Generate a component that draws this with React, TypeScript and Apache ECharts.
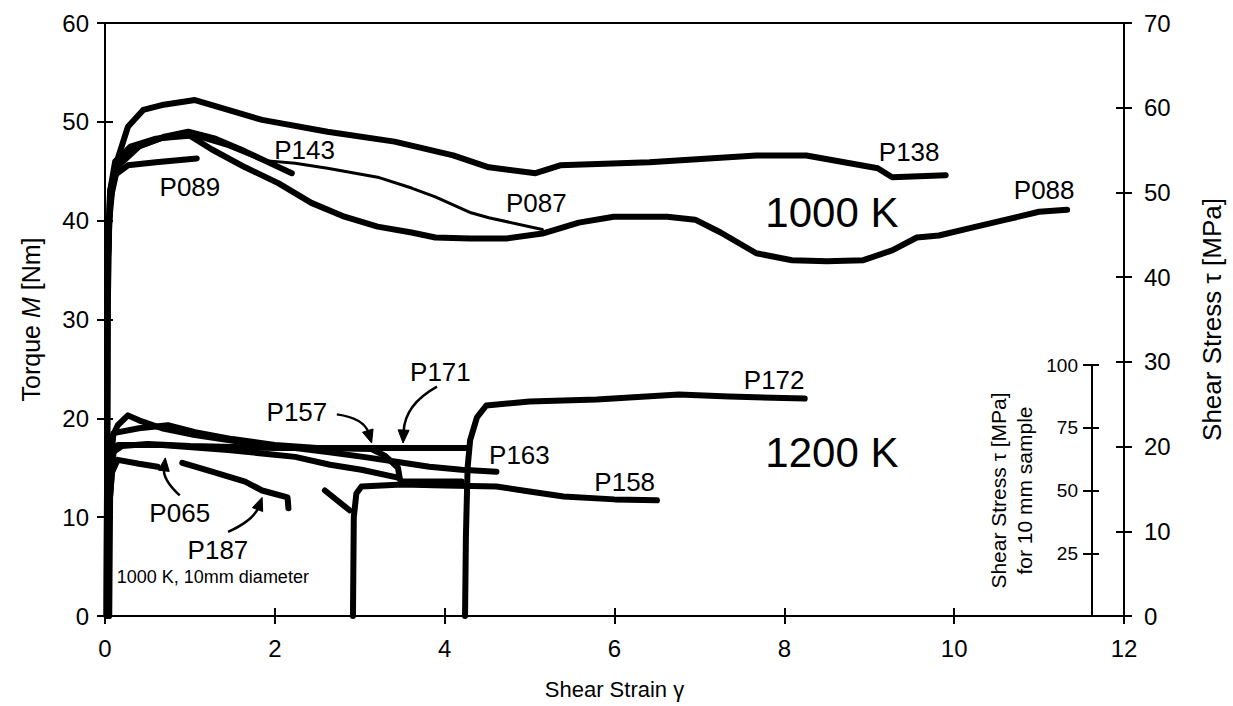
import React, { useEffect, useRef } from "react";
import * as echarts from "echarts";

const FONT = '"Liberation Sans", Arial, Helvetica, sans-serif';

// ---- axes ----
const strainMin = 0;
const strainMax = 12;
const strainStep = 2;
const torqueMax = 60;
const torqueStep = 10;
const stressMax = 70;
const stressStep = 10;
const stress10Max = 100;
const stress10Step = 25;

// ---- 1000 K curves (shear strain, torque Nm) ----
const P138 = [
  [0.02, 0], [0.03, 35], [0.06, 43], [0.14, 46], [0.27, 49.5], [0.45, 51.2], [0.67, 51.7],
  [1.06, 52.2], [1.45, 51.2], [1.85, 50.2], [2.62, 49.0], [3.41, 48.0], [4.1, 46.6],
  [4.52, 45.4], [5.07, 44.8], [5.36, 45.6], [6.41, 45.9], [7.67, 46.6], [8.26, 46.6],
  [9.1, 45.3], [9.27, 44.4], [9.9, 44.6],
];
const P088 = [
  [0.02, 0], [0.03, 35], [0.06, 43], [0.12, 46], [0.3, 47.5], [0.6, 48.3], [0.98, 48.7],
  [1.26, 47.2], [1.65, 45.4], [2.04, 43.8], [2.43, 41.8], [2.82, 40.4], [3.21, 39.4],
  [3.61, 38.8], [3.89, 38.3], [4.3, 38.2], [4.73, 38.2], [5.15, 38.7], [5.58, 39.8],
  [5.99, 40.4], [6.62, 40.4], [6.95, 40.1], [7.25, 38.8], [7.67, 36.7], [8.09, 36.0],
  [8.5, 35.9], [8.93, 36.0], [9.27, 37.0], [9.56, 38.3], [9.82, 38.5], [10.21, 39.3],
  [10.61, 40.1], [11.0, 40.9], [11.33, 41.1],
];
const P087 = [
  [0.02, 0], [0.03, 35], [0.06, 43], [0.15, 46.0], [0.27, 47.0], [0.67, 48.2], [1.06, 48.5],
  [1.45, 47.5], [1.85, 46.1], [2.24, 45.8], [2.62, 45.3], [3.21, 44.4], [3.61, 43.3],
  [3.89, 42.4], [4.31, 40.8], [4.52, 40.3], [5.15, 39.1],
];
const P143 = [
  [0.02, 0], [0.03, 35], [0.06, 42], [0.15, 45.5], [0.4, 47.5], [0.7, 48.5], [0.98, 49.0],
  [1.3, 48.3], [1.6, 47.2], [1.9, 46.0], [2.2, 44.8],
];
const P089 = [
  [0.02, 0], [0.03, 30], [0.05, 40], [0.1, 44.5], [0.27, 45.6], [0.6, 45.9], [1.08, 46.3],
];

// ---- 1200 K curves ----
const P163 = [
  [0.03, 0], [0.04, 12], [0.08, 18], [0.15, 19.3], [0.27, 20.3], [0.4, 19.8], [0.67, 19.0],
  [1.06, 18.3], [1.45, 17.8], [1.85, 17.3], [2.24, 17.0], [2.62, 16.6], [3.04, 16.1],
  [3.43, 15.6], [3.82, 15.1], [4.2, 14.8], [4.61, 14.6],
];
const P157 = [
  [0.04, 0], [0.05, 14], [0.1, 18.5], [0.4, 19.0], [0.74, 19.3], [1.06, 18.6], [1.5, 17.9],
  [2.0, 17.3], [2.5, 17.0], [3.14, 16.9], [3.3, 16.2], [3.45, 15.0], [3.47, 14.0],
];
const P171 = [
  [0.03, 0], [0.04, 14], [0.08, 16.5], [0.2, 17.2], [0.5, 17.4], [1.0, 17.2], [2.0, 17.0],
  [3.0, 17.0], [4.26, 17.0],
];
const P065main = [
  [0.05, 0], [0.06, 12], [0.1, 16.5], [0.15, 17.3], [0.67, 17.3], [1.45, 16.8], [2.24, 16.1],
  [2.65, 15.3], [3.02, 14.8], [3.45, 14.0], [3.5, 13.6], [4.2, 13.6],
];
const P065 = [
  [0.04, 0], [0.05, 11], [0.08, 14.5], [0.15, 15.8], [0.4, 15.4], [0.62, 15.1],
];
const P187 = [
  [0.91, 15.5], [1.26, 14.6], [1.65, 13.6], [1.85, 12.7], [2.15, 12.0], [2.16, 10.9],
];
const P158pre = [[2.59, 12.7], [2.88, 10.7]];
const P158 = [
  [2.92, 0], [2.93, 10], [2.96, 12.4], [3.02, 13.1], [3.5, 13.3], [4.0, 13.2], [4.61, 13.1],
  [5.0, 12.6], [5.4, 12.1], [6.0, 11.8], [6.5, 11.7],
];
const P172 = [
  [4.24, 0], [4.25, 8], [4.27, 15], [4.3, 17.8], [4.38, 20.1], [4.49, 21.3], [5.0, 21.7],
  [5.79, 21.9], [6.76, 22.4], [7.35, 22.2], [8.24, 22.0],
];

// ---- annotations (data coordinates) ----
const labelTexts = [
  { text: "P138", at: [9.47, 46.9], size: 26 },
  { text: "P088", at: [11.06, 43.1], size: 26 },
  { text: "P087", at: [5.08, 41.8], size: 26 },
  { text: "P143", at: [2.35, 47.2], size: 26 },
  { text: "P089", at: [1.0, 43.4], size: 26 },
  { text: "1000 K", at: [8.56, 40.8], size: 42 },
  { text: "P171", at: [3.95, 24.7], size: 26 },
  { text: "P172", at: [7.88, 23.9], size: 26 },
  { text: "P157", at: [2.26, 20.6], size: 26 },
  { text: "P163", at: [4.88, 16.3], size: 26 },
  { text: "P158", at: [6.12, 13.6], size: 26 },
  { text: "1200 K", at: [8.56, 16.5], size: 42 },
  { text: "P065", at: [0.88, 10.4], size: 26 },
  { text: "P187", at: [1.33, 6.7], size: 26 },
  { text: "1000 K, 10mm diameter", at: [1.27, 3.9], size: 18 },
];
const arrows = [
  { from: [2.73, 20.4], ctrl: [3.05, 20.0], to: [3.14, 17.5] },
  { from: [3.91, 23.2], ctrl: [3.53, 21.4], to: [3.51, 17.5] },
  { from: [0.88, 12.2], ctrl: [0.68, 13.8], to: [0.71, 16.0] },
  { from: [1.45, 8.5], ctrl: [1.75, 9.7], to: [1.85, 12.0] },
];

const thick = [P138, P088, P143, P089, P163, P157, P171, P065main, P065, P187, P158pre, P158, P172];
const thickNames = ["P138", "P088", "P143", "P089", "P163", "P157", "P171", "P065b", "P065", "P187", "P158a", "P158", "P172"];

const black = "#000";
const lineSeries = (name: string, data: number[][], width: number) => ({
  type: "line",
  name,
  data,
  xAxisIndex: 0,
  yAxisIndex: 0,
  symbol: "none",
  showSymbol: false,
  silent: true,
  lineStyle: { color: black, width, join: "round", cap: "round" },
});

function arrowHead(tip: number[], from: number[], len = 13, half = 5.5) {
  const dx = tip[0] - from[0];
  const dy = tip[1] - from[1];
  const d = Math.hypot(dx, dy) || 1;
  const ux = dx / d;
  const uy = dy / d;
  const bx = tip[0] - ux * len;
  const by = tip[1] - uy * len;
  return {
    pts: [
      [tip[0], tip[1]],
      [bx - uy * half, by + ux * half],
      [bx + uy * half, by - ux * half],
    ],
    base: [bx + ux * 2, by + uy * 2],
  };
}

export default function App() {
  const ref = useRef<HTMLDivElement>(null);

  useEffect(() => {
    if (!ref.current) return;
    const chart = echarts.init(ref.current, undefined, { renderer: "svg" });
    const tickStyle = { color: black, width: 2 };
    const labelStyle = { color: black, fontSize: 24, fontFamily: FONT };
    const line = { show: true, onZero: false, lineStyle: tickStyle };
    const noLine = { show: false, onZero: false };

    const series: any[] = thick.map((d, i) => lineSeries(thickNames[i], d, 6));
    series.push(lineSeries("P087", P087, 3));

    const option: any = {
      animation: false,
      backgroundColor: "#fff",
      grid: [
        { left: 105, right: 108, top: 23, bottom: 90 },
        { left: 1092, right: 133, top: 365, bottom: 90 },
      ],
      xAxis: [
        {
          gridIndex: 0, type: "value", min: strainMin, max: strainMax, interval: strainStep,
          position: "bottom",
          axisLine: line,
          axisTick: { inside: false, length: 8, lineStyle: tickStyle },
          axisLabel: { ...labelStyle, margin: 20 },
          splitLine: { show: false },
          name: "Shear Strain γ", nameLocation: "middle", nameGap: 62,
          nameTextStyle: { color: black, fontSize: 22, fontFamily: FONT },
        },
        {
          gridIndex: 0, type: "value", min: strainMin, max: strainMax, interval: strainStep,
          position: "bottom",
          axisLine: noLine,
          axisTick: { inside: true, length: 8, lineStyle: tickStyle },
          axisLabel: { show: false }, splitLine: { show: false },
        },
        {
          gridIndex: 0, type: "value", min: strainMin, max: strainMax, position: "top",
          axisLine: line, axisTick: { show: false },
          axisLabel: { show: false }, splitLine: { show: false },
        },
        { gridIndex: 1, type: "value", min: 0, max: 1, show: false },
      ],
      yAxis: [
        {
          gridIndex: 0, type: "value", min: 0, max: torqueMax, interval: torqueStep, position: "left",
          axisLine: line,
          axisTick: { show: true, inside: false, length: 8, lineStyle: tickStyle },
          axisLabel: { ...labelStyle, margin: 16 },
          splitLine: { show: false },
          name: "Torque {i|M} [Nm]", nameLocation: "middle", nameGap: 62, nameRotate: 90,
          nameTextStyle: {
            color: black, fontSize: 25, fontFamily: FONT,
            rich: { i: { fontStyle: "italic", fontSize: 25, fontFamily: FONT, color: black } },
          },
        },
        {
          gridIndex: 0, type: "value", min: 0, max: torqueMax, interval: torqueStep, position: "left",
          axisLine: noLine,
          axisTick: { show: true, inside: true, length: 8, lineStyle: tickStyle },
          axisLabel: { show: false }, splitLine: { show: false },
        },
        {
          gridIndex: 0, type: "value", min: 0, max: stressMax, interval: stressStep, position: "right",
          axisLine: line,
          axisTick: { show: true, inside: false, length: 8, lineStyle: tickStyle },
          axisLabel: { ...labelStyle, margin: 20 },
          splitLine: { show: false },
          name: "Shear Stress τ [MPa]", nameLocation: "middle", nameGap: 75, nameRotate: 90,
          nameTextStyle: { color: black, fontSize: 26, fontFamily: FONT },
        },
        {
          gridIndex: 0, type: "value", min: 0, max: stressMax, interval: stressStep, position: "right",
          axisLine: noLine,
          axisTick: { show: true, inside: true, length: 8, lineStyle: tickStyle },
          axisLabel: { show: false }, splitLine: { show: false },
        },
        {
          gridIndex: 1, type: "value", min: 0, max: stress10Max, interval: stress10Step, position: "left",
          axisLine: line,
          axisTick: { show: true, inside: false, length: 9, lineStyle: tickStyle },
          axisLabel: {
            color: black, fontSize: 19, fontFamily: FONT, margin: 14,
            formatter: (v: number) => (v === 0 ? "" : String(v)),
          },
          splitLine: { show: false },
          name: "Shear Stress τ [MPa]\nfor 10 mm sample", nameLocation: "middle", nameGap: 55, nameRotate: 90,
          nameTextStyle: { color: black, fontSize: 21, fontFamily: FONT, lineHeight: 26 },
        },
        {
          gridIndex: 1, type: "value", min: 0, max: stress10Max, interval: stress10Step, position: "left",
          axisLine: noLine,
          axisTick: { show: true, inside: true, length: 7, lineStyle: tickStyle },
          axisLabel: { show: false }, splitLine: { show: false },
        },
      ],
      series,
    };
    chart.setOption(option);

    const toPx = (p: number[]) => chart.convertToPixel({ seriesIndex: 0 }, p) as number[];
    const graphics: any[] = [];
    labelTexts.forEach((l) => {
      const p = toPx(l.at);
      graphics.push({
        type: "text", x: p[0], y: p[1], silent: true,
        style: {
          text: l.text, fill: black, fontSize: l.size, fontFamily: FONT,
          textAlign: "center", textVerticalAlign: "middle", align: "center", verticalAlign: "middle",
        },
      });
    });
    arrows.forEach((a) => {
      const f = toPx(a.from);
      const c = toPx(a.ctrl);
      const t = toPx(a.to);
      const head = arrowHead(t, c);
      graphics.push({
        type: "bezierCurve", silent: true,
        shape: { x1: f[0], y1: f[1], cpx1: c[0], cpy1: c[1], x2: head.base[0], y2: head.base[1] },
        style: { stroke: black, lineWidth: 2.5, fill: null },
      });
      graphics.push({
        type: "polygon", silent: true,
        shape: { points: head.pts },
        style: { fill: black, stroke: black, lineWidth: 1 },
      });
    });
    chart.setOption({ graphic: graphics });

    return () => chart.dispose();
  }, []);

  return (
    <div
      ref={ref}
      style={{ position: "absolute", left: 0, top: 0, width: 1233, height: 706, background: "#fff" }}
    />
  );
}
